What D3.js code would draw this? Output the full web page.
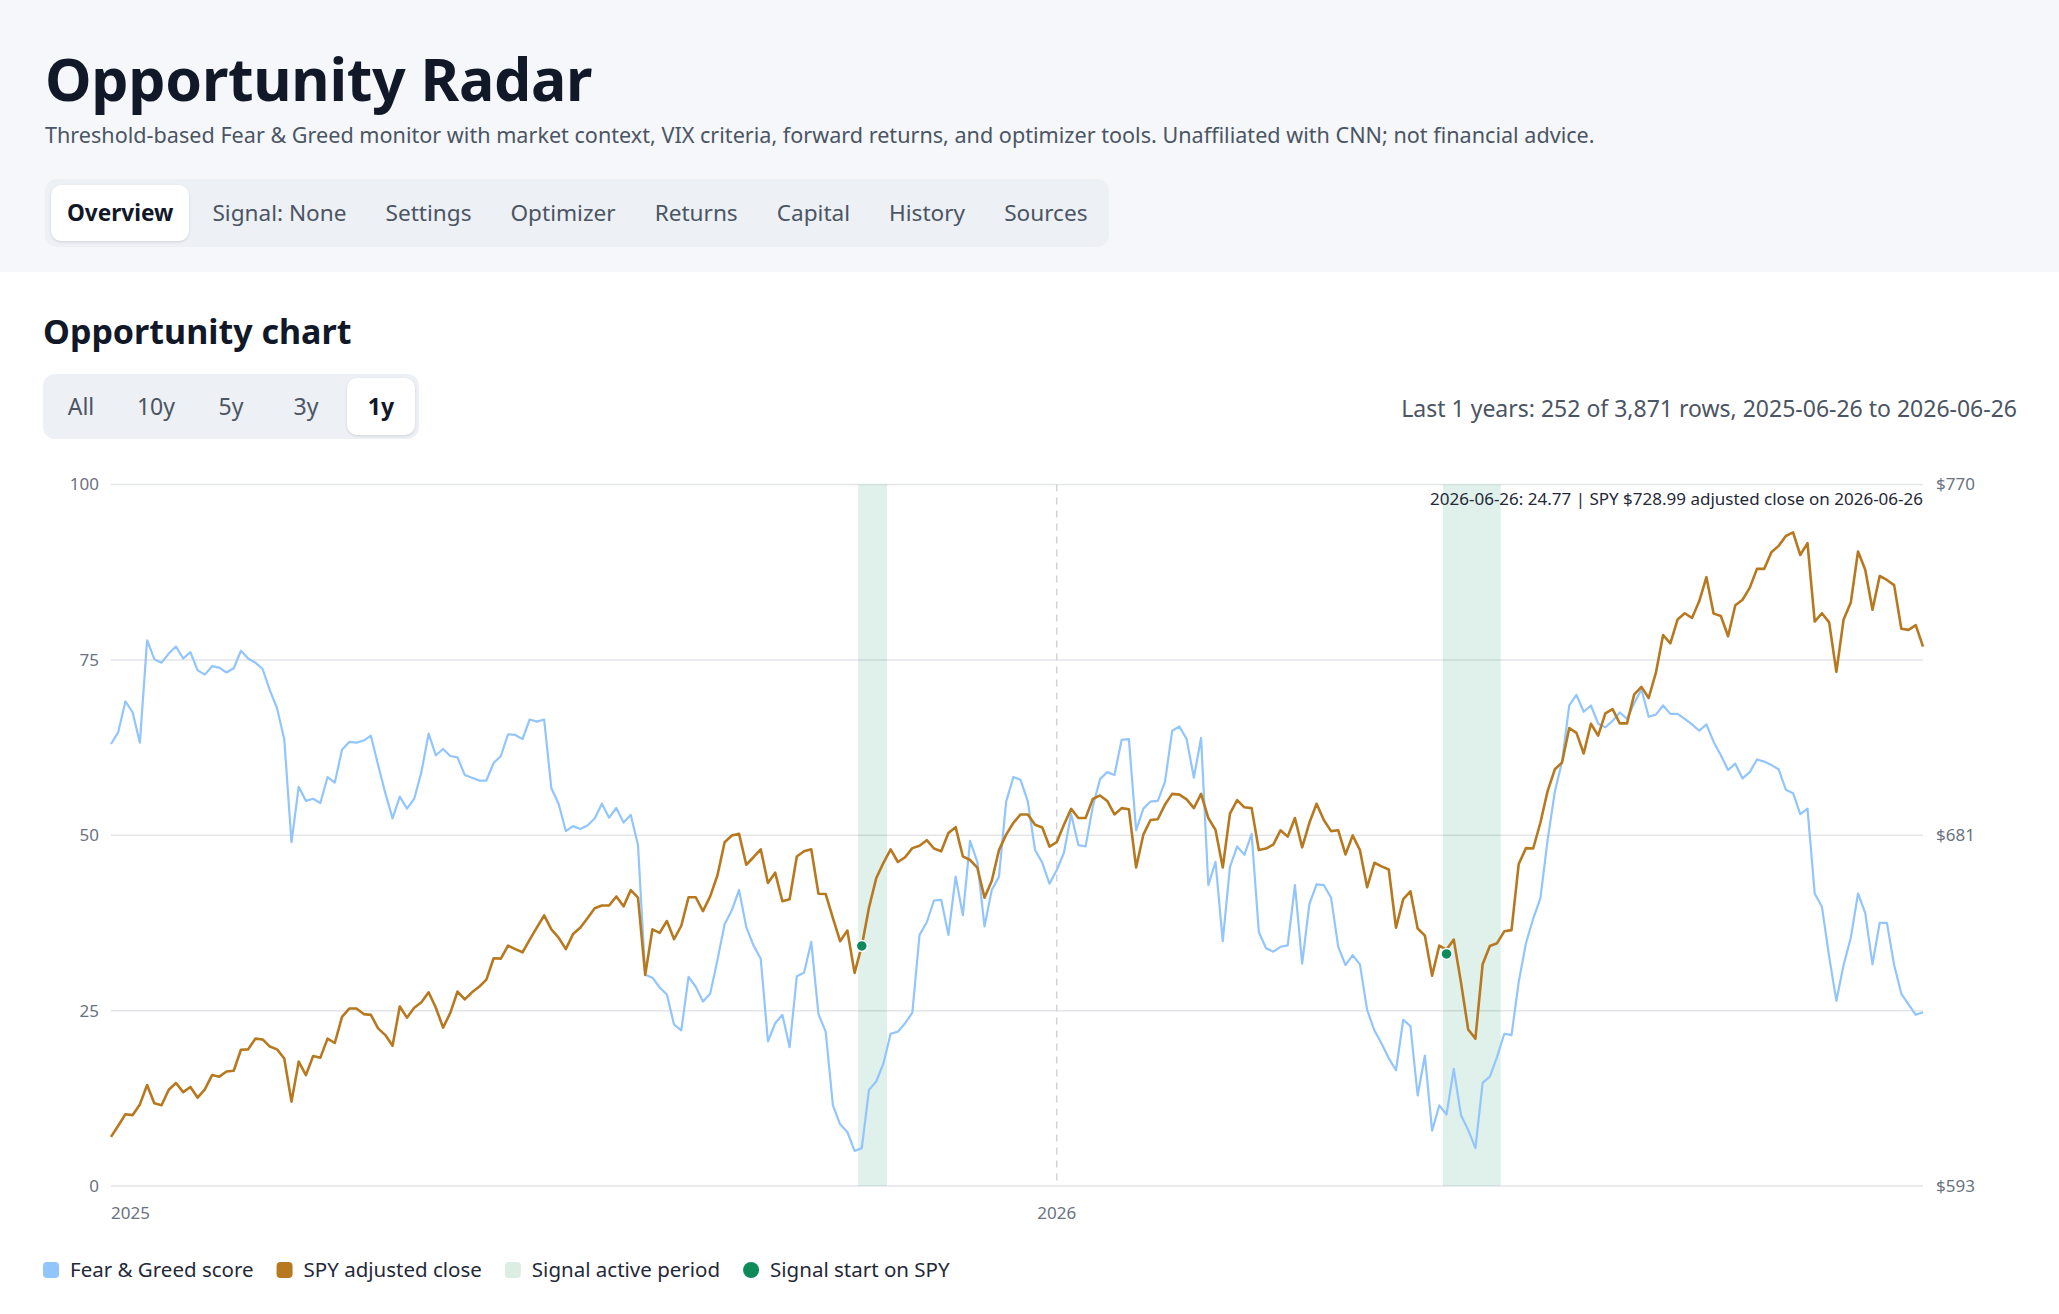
<!DOCTYPE html>
<html>
<head>
<meta charset="utf-8">
<script src="https://d3js.org/d3.v7.min.js"></script>
<style>
  body { margin:0; width:2059px; height:1314px; overflow:hidden; background:#fff; position:relative;
         font-family:"Segoe UI","Noto Sans",sans-serif; color:#111827; }
  .top { position:absolute; left:0; top:0; width:2059px; height:272px; background:#f5f7fa; }
  h1 { position:absolute; left:45px; top:46px; margin:0; font-size:59px; line-height:64px; font-weight:700;
       letter-spacing:-0.3px; color:#111827; }
  .sub { position:absolute; left:45px; top:120px; font-size:21.6px; line-height:30px; color:#4b5563; }
  .tabs { position:absolute; left:45px; top:179px; height:68px; box-sizing:border-box; padding:6px;
          background:#edf0f5; border-radius:12px; display:flex; gap:7px; }
  .tabs div, .ranges div { font-size:22.6px; color:#4b5563; border-radius:10px; }
  .tabs div { padding:0 16px; line-height:56px; }
  .tabs .on, .ranges .on { background:#fff; color:#111827; font-weight:700; box-shadow:0 1px 3px rgba(0,0,0,0.13); }
  h2 { position:absolute; left:43px; top:310px; margin:0; font-size:34px; line-height:42px; font-weight:700; color:#111827; }
  .ranges { position:absolute; left:43px; top:374px; height:65px; box-sizing:border-box; padding:4px;
            background:#edf0f5; border-radius:12px; display:flex; gap:7px; }
  .ranges div { width:68px; text-align:center; line-height:57px; font-size:23px; }
  .meta { position:absolute; right:42px; top:393px; font-size:23px; line-height:30px; color:#4b5563; }
  svg { position:absolute; left:0; top:0; }
</style>
</head>
<body>
<div class="top"></div>
<h1>Opportunity Radar</h1>
<div class="sub">Threshold-based Fear &amp; Greed monitor with market context, VIX criteria, forward returns, and optimizer tools. Unaffiliated with CNN; not financial advice.</div>
<div class="tabs" id="tabs"></div>
<h2>Opportunity chart</h2>
<div class="ranges" id="ranges"></div>
<div class="meta" id="meta"></div>
<div id="chart"></div>

<script>
var tabs = ["Overview", "Signal: None", "Settings", "Optimizer", "Returns", "Capital", "History", "Sources"];
var ranges = ["All", "10y", "5y", "3y", "1y"];

var firstDate = "2025-06-26", lastDate = "2026-06-26";
var totalRows = 3871;

// Fear & Greed score, one value per trading day
var fearGreed = [
  63.0,64.7,69.1,67.5,63.2,77.8,75.1,74.6,75.9,76.9,
  75.2,76.1,73.5,72.9,74.1,73.9,73.2,73.8,76.3,75.2,
  74.6,73.7,70.7,68.1,63.7,49.0,56.9,54.9,55.2,54.6,
  58.3,57.5,62.2,63.3,63.2,63.5,64.2,60.0,56.0,52.4,
  55.5,53.8,55.2,59.0,64.5,61.4,62.3,61.3,61.1,58.6,
  58.2,57.8,57.8,60.3,61.3,64.4,64.3,63.7,66.5,66.2,
  66.5,56.7,54.5,50.6,51.3,50.9,51.4,52.4,54.5,52.5,
  53.9,51.8,52.9,48.6,30.1,29.7,28.3,27.3,23.0,22.2,
  29.8,28.4,26.3,27.4,32.2,37.3,39.3,42.2,36.9,34.3,
  32.4,20.6,23.2,24.4,19.8,29.9,30.4,34.8,24.5,22.0,
  11.5,8.8,7.7,5.0,5.4,13.7,14.9,17.5,21.7,22.0,
  23.2,24.7,35.8,37.6,40.7,40.8,35.8,44.1,38.6,49.2,
  46.2,37.0,42.2,44.1,54.8,58.3,57.9,54.8,47.9,46.1,
  43.1,45.0,47.5,53.0,48.6,48.4,54.1,58.0,59.0,58.6,
  63.6,63.7,50.7,53.8,54.8,54.9,57.6,64.9,65.5,63.7,
  58.2,63.9,42.9,46.2,34.9,45.5,48.4,47.2,50.2,36.2,
  33.9,33.4,34.1,34.3,42.9,31.7,40.2,43.0,42.9,41.1,
  34.1,31.5,32.9,31.6,25.1,22.2,20.3,18.2,16.5,23.7,
  22.8,12.9,18.6,7.9,11.5,10.2,16.7,10.1,8.0,5.4,
  14.7,15.6,18.4,21.7,21.5,29.1,34.6,38.1,41.0,49.3,
  56.2,60.5,68.5,70.0,67.6,68.5,65.9,65.4,66.3,67.5,
  66.6,68.8,70.8,66.9,67.2,68.5,67.3,67.3,66.6,65.8,
  64.9,65.8,63.3,61.4,59.3,60.2,58.1,59.0,60.8,60.5,
  60.0,59.4,56.5,56.0,53.0,53.8,41.7,39.8,32.7,26.4,
  31.5,35.4,41.7,38.9,31.6,37.5,37.5,31.5,27.4,25.9,
  24.4,24.77
];

// SPY adjusted close
var spyClose = [
  605.2,608.0,610.9,610.7,613.4,618.3,613.7,613.2,617.1,618.8,
  616.5,617.8,615.1,617.2,620.8,620.4,621.7,621.9,627.2,627.3,
  630.0,629.8,628.0,627.3,625.0,614.1,624.2,620.8,625.6,625.2,
  630.0,628.9,635.5,637.6,637.6,636.2,636.0,632.6,630.9,628.2,
  638.1,635.3,637.8,639.2,641.7,637.8,632.8,636.5,641.9,639.9,
  641.7,643.1,644.9,650.3,650.2,653.5,652.6,651.8,655.0,658.1,
  661.1,657.6,655.5,652.6,656.4,658.0,660.4,662.9,663.6,663.6,
  665.9,663.4,667.5,665.6,646.1,657.6,656.7,659.7,655.1,658.5,
  665.7,665.7,662.2,665.9,671.2,679.6,681.3,681.7,673.9,675.8,
  677.8,669.3,671.9,664.7,665.2,676.0,677.3,677.8,666.6,666.5,
  660.4,654.6,657.3,646.6,653.4,663.1,670.5,674.4,677.8,674.6,
  675.8,678.1,678.7,680.1,678.0,677.3,681.9,683.4,676.0,675.1,
  673.2,665.6,669.8,677.6,681.5,684.5,686.6,686.6,684.0,683.3,
  678.5,679.6,684.0,688.0,685.7,685.7,690.5,691.4,690.0,686.6,
  688.2,687.9,673.2,681.5,685.2,685.4,689.1,691.8,691.6,690.4,
  688.2,691.8,685.7,682.7,673.2,686.8,690.2,688.4,688.2,677.6,
  678.0,679.0,682.6,681.0,685.7,678.3,684.5,689.3,685.2,682.4,
  682.6,676.5,681.3,677.6,668.2,674.4,673.5,672.7,658.0,665.2,
  667.2,657.8,656.0,645.9,653.5,652.5,655.0,644.2,632.3,630.0,
  648.8,653.4,654.1,657.1,657.4,674.1,678.1,678.0,684.5,692.5,
  698.0,699.7,708.4,707.2,702.0,709.5,706.5,712.1,713.2,709.6,
  709.6,716.9,718.8,716.0,722.4,731.9,729.8,735.8,737.4,736.2,
  740.4,746.5,737.3,736.7,731.6,739.4,740.8,743.8,748.6,748.6,
  752.8,754.4,756.9,757.8,752.1,755.1,735.3,737.4,735.1,722.6,
  735.8,740.1,753.0,748.4,738.3,746.8,745.8,744.5,733.5,733.2,
  734.4,728.99
];

// signal active periods (row index of first and last active day)
var signalBands = [{start: 104, end: 107}, {start: 185, end: 192}];
// signal start markers on SPY
var signalStarts = [{i: 104, spy: 653.4}, {i: 185, spy: 651.4}];
// first row of each calendar year
var yearStarts = [{i: 0, label: "2025"}, {i: 131, label: "2026"}];

var scoreTicks = [0, 25, 50, 75, 100];
var spyDomain = [592.8, 769.9];

// header controls
d3.select("#tabs").selectAll("div").data(tabs).join("div")
  .classed("on", function (d, i) { return i === 0; })
  .text(function (d) { return d; });
d3.select("#ranges").selectAll("div").data(ranges).join("div")
  .classed("on", function (d) { return d === "1y"; })
  .text(function (d) { return d; });
d3.select("#meta").text("Last 1 years: " + fearGreed.length + " of " + d3.format(",")(totalRows) +
  " rows, " + firstDate + " to " + lastDate);

// chart
var W = 2059, H = 1314;
var margin = {top: 484.5, right: 136, bottom: 128, left: 111};
var x0 = margin.left, x1 = W - margin.right, y0 = H - margin.bottom, y1 = margin.top;

var svg = d3.select("#chart").append("svg")
  .attr("width", W).attr("height", H)
  .style("font-family", "'Segoe UI','Noto Sans',sans-serif");

var x = d3.scaleLinear().domain([0, fearGreed.length - 1]).range([x0, x1]);
var y = d3.scaleLinear().domain([0, 100]).range([y0, y1]);
var ySpy = d3.scaleLinear().domain(spyDomain).range([y0, y1]);

// grid
svg.append("g").selectAll("line").data(scoreTicks).join("line")
  .attr("x1", x0).attr("x2", x1)
  .attr("y1", function (d) { return y(d); }).attr("y2", function (d) { return y(d); })
  .attr("stroke", "#e3e5e8").attr("stroke-width", 1.5);

// year separators
svg.append("g").selectAll("line").data(yearStarts.slice(1)).join("line")
  .attr("x1", function (d) { return x(d.i); }).attr("x2", function (d) { return x(d.i); })
  .attr("y1", y1).attr("y2", y0)
  .attr("stroke", "#cfd3d8").attr("stroke-width", 1.5).attr("stroke-dasharray", "7,6");

// signal active bands
svg.append("g").selectAll("rect").data(signalBands).join("rect")
  .attr("x", function (d) { return x(d.start - 0.5); })
  .attr("width", function (d) { return x(d.end + 0.5) - x(d.start - 0.5); })
  .attr("y", y1).attr("height", y0 - y1)
  .attr("fill", "#108a5a").attr("fill-opacity", 0.13);

// left axis labels
svg.append("g").selectAll("text").data(scoreTicks).join("text")
  .attr("x", x0 - 12).attr("y", function (d) { return y(d); })
  .attr("dy", "0.35em").attr("text-anchor", "end")
  .attr("font-size", 17).attr("fill", "#6b7280")
  .text(function (d) { return d; });

// right axis labels
var spyTicks = [spyDomain[0], (spyDomain[0] + spyDomain[1]) / 2, spyDomain[1]];
svg.append("g").selectAll("text").data(spyTicks).join("text")
  .attr("x", x1 + 13).attr("y", function (d) { return ySpy(d); })
  .attr("dy", "0.35em").attr("text-anchor", "start")
  .attr("font-size", 17).attr("fill", "#6b7280")
  .text(function (d) { return "$" + Math.round(d); });

// year labels
svg.append("g").selectAll("text").data(yearStarts).join("text")
  .attr("x", function (d) { return x(d.i); }).attr("y", y0 + 27)
  .attr("dy", "0.35em")
  .attr("text-anchor", function (d, i) { return i === 0 ? "start" : "middle"; })
  .attr("font-size", 17).attr("fill", "#6b7280")
  .text(function (d) { return d.label; });

// lines
var fgLine = d3.line().x(function (d, i) { return x(i); }).y(function (d) { return y(d); });
var spyLine = d3.line().x(function (d, i) { return x(i); }).y(function (d) { return ySpy(d); });

svg.append("path").datum(fearGreed)
  .attr("d", fgLine).attr("fill", "none")
  .attr("stroke", "#93c5fd").attr("stroke-width", 2.2).attr("stroke-linejoin", "round");
svg.append("path").datum(spyClose)
  .attr("d", spyLine).attr("fill", "none")
  .attr("stroke", "#b7791f").attr("stroke-width", 2.6).attr("stroke-linejoin", "round");

// signal start dots
svg.append("g").selectAll("circle").data(signalStarts).join("circle")
  .attr("cx", function (d) { return x(d.i); }).attr("cy", function (d) { return ySpy(d.spy); })
  .attr("r", 5.5).attr("fill", "#0f8a5a").attr("stroke", "#fff").attr("stroke-width", 1.5);

// hover readout for last row
var last = fearGreed.length - 1;
svg.append("text")
  .attr("x", x1).attr("y", y1 + 15).attr("dy", "0.35em")
  .attr("text-anchor", "end").attr("font-size", 17).attr("fill", "#1f2937")
  .text(lastDate + ": " + fearGreed[last] + " | SPY $" + spyClose[last].toFixed(2) +
        " adjusted close on " + lastDate);

// legend
var legend = [
  {label: "Fear & Greed score", color: "#93c5fd", shape: "sq"},
  {label: "SPY adjusted close", color: "#b7791f", shape: "sq"},
  {label: "Signal active period", color: "#dcede4", shape: "sq"},
  {label: "Signal start on SPY", color: "#0f8a5a", shape: "dot"}
];
var lg = svg.append("g").attr("transform", "translate(43,1270)");
var lx = 0;
legend.forEach(function (d) {
  var g = lg.append("g").attr("transform", "translate(" + lx + ",0)");
  if (d.shape === "sq") {
    g.append("rect").attr("x", 0).attr("y", -8).attr("width", 16).attr("height", 16)
      .attr("rx", 4).attr("fill", d.color);
  } else {
    g.append("circle").attr("cx", 8).attr("cy", 0).attr("r", 8).attr("fill", d.color);
  }
  var t = g.append("text").attr("x", 27).attr("y", 0).attr("dy", "0.35em")
    .attr("font-size", 20.5).attr("fill", "#1f2937").text(d.label);
  lx += 27 + t.node().getComputedTextLength() + 23;
});
</script>
</body>
</html>
